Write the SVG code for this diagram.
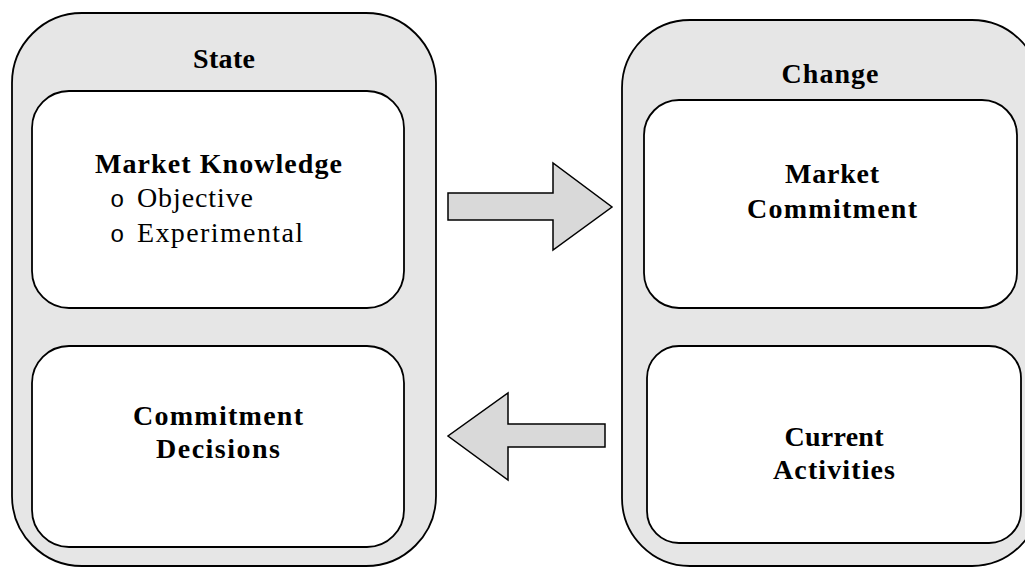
<svg xmlns="http://www.w3.org/2000/svg" width="1025" height="567" viewBox="0 0 1025 567">
<style>
.outer{fill:#e6e6e6;stroke:#000;stroke-width:1.8}
.inner{fill:#fff;stroke:#000;stroke-width:1.8}
.arrow{fill:#d9d9d9;stroke:#000;stroke-width:1.5;stroke-linejoin:miter}
text{font-family:"Liberation Serif","DejaVu Serif",serif;font-size:28px;fill:#000}
.b{font-weight:bold;text-anchor:middle}
.bul{font-family:"Liberation Mono",monospace;font-size:24px}
</style>
<rect width="1025" height="567" fill="#fff"/>
<g id="state">
<rect class="outer" x="12" y="13" width="424" height="553" rx="70" ry="70"/>
<text class="b" x="224" y="68" textLength="62" lengthAdjust="spacing">State</text>
</g>
<g id="market-knowledge">
<rect class="inner" x="32" y="91" width="372" height="217" rx="37" ry="37"/>
<text class="b" x="218.5" y="173" textLength="247" lengthAdjust="spacing">Market Knowledge</text>
<text class="bul" x="110" y="207">o</text>
<text x="137" y="207" textLength="116" lengthAdjust="spacing">Objective</text>
<text class="bul" x="110" y="242">o</text>
<text x="137" y="242" textLength="166" lengthAdjust="spacing">Experimental</text>
</g>
<g id="commitment-decisions">
<rect class="inner" x="32" y="346" width="372" height="201" rx="37" ry="37"/>
<text class="b" x="218" y="425" textLength="170" lengthAdjust="spacing">Commitment</text>
<text class="b" x="218" y="458" textLength="124" lengthAdjust="spacing">Decisions</text>
</g>
<g id="change">
<rect class="outer" x="622" y="20" width="418" height="546" rx="68" ry="68"/>
<text class="b" x="830" y="83" textLength="97" lengthAdjust="spacing">Change</text>
</g>
<g id="market-commitment">
<rect class="inner" x="644" y="100" width="373" height="208" rx="35" ry="35"/>
<text class="b" x="832" y="183" textLength="94" lengthAdjust="spacing">Market</text>
<text class="b" x="832" y="218" textLength="170" lengthAdjust="spacing">Commitment</text>
</g>
<g id="current-activities">
<rect class="inner" x="647" y="346" width="374" height="197" rx="32" ry="32"/>
<text class="b" x="834" y="446" textLength="99" lengthAdjust="spacing">Current</text>
<text class="b" x="834" y="479" textLength="122" lengthAdjust="spacing">Activities</text>
</g>
<g id="connectors">
<polygon class="arrow" points="448,193 553,193 553,163 612,207 553,250 553,220 448,220"/>
<polygon class="arrow" points="605,424 508,424 508,393 448,436 508,480 508,447 605,447"/>
</g>
</svg>
